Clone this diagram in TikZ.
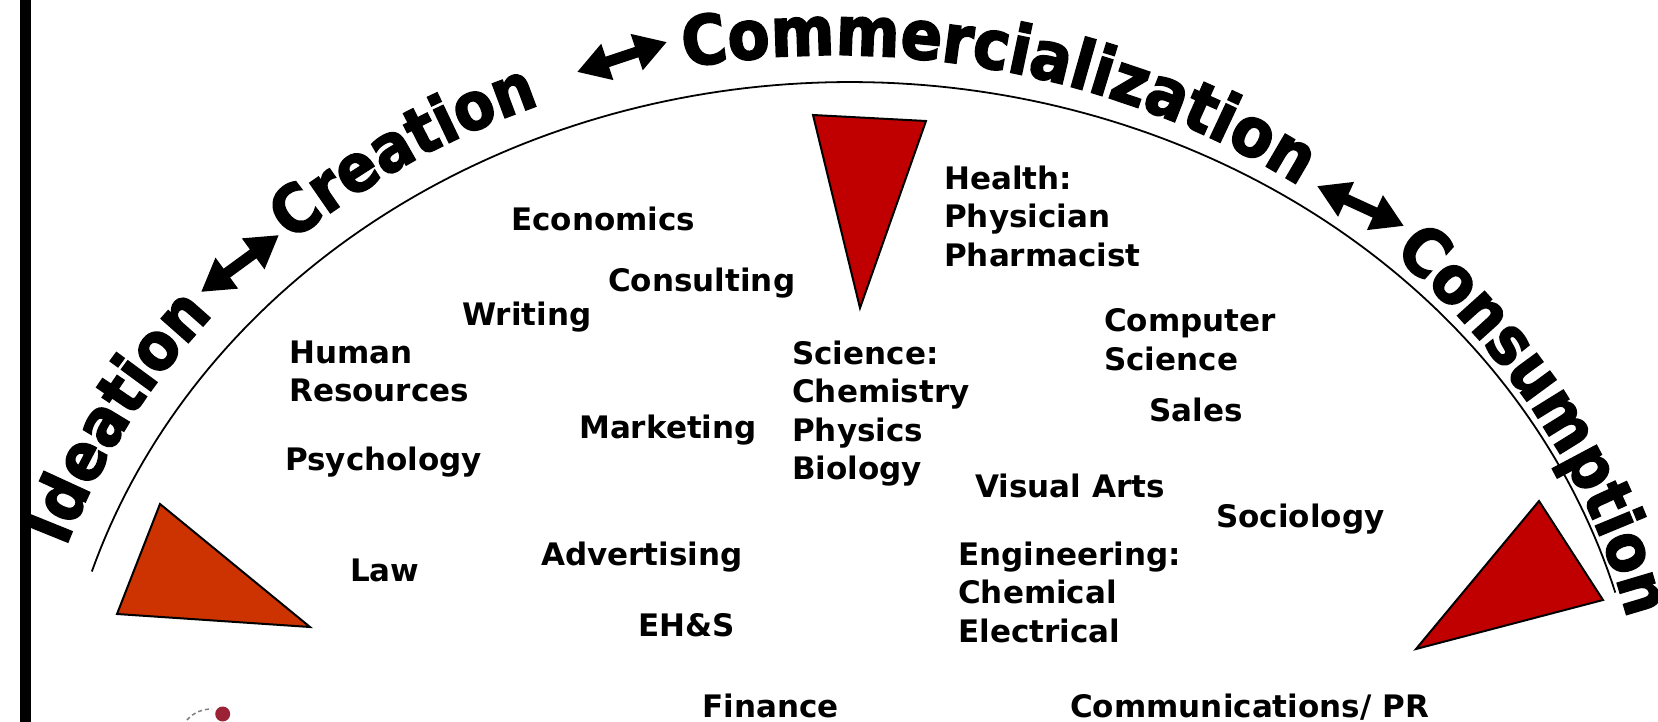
\documentclass[tikz,border=0pt]{standalone}
\usepackage{fontspec}
\setmainfont{DejaVu Sans}
\newfontfamily\arcfont{DejaVu Sans}[BoldFeatures={FakeBold=2.5, FakeStretch=0.9}]
\usetikzlibrary{decorations.text, arrows.meta}
\newcommand\curvefont{\arcfont\bfseries\fontsize{66}{66}\selectfont}
\newcommand\curvefontbig{\arcfont\bfseries\fontsize{68}{68}\selectfont}
\definecolor{triorange}{RGB}{204,51,0}
\definecolor{trired}{RGB}{192,0,0}
\definecolor{logored}{RGB}{155,35,53}
\begin{document}
\begin{tikzpicture}[x=1pt, y=-1pt,
  % baseline ellipse of the stage names
  declare function={bx(\t)=835+815*cos(\t); by(\t)=790-735*sin(\t);},
  lbl/.style={anchor=north west, inner sep=0pt, align=left,
    font=\fontsize{31}{38.4}\selectfont\bfseries},
  tri/.style={draw=black, line width=2pt, line join=miter},
  dbl/.style={line width=11pt,
    {Triangle[length=32pt,width=36pt]}-{Triangle[length=32pt,width=36pt]}},
  curved/.style={decorate, decoration={text along path, text align={left indent=0pt}, text={#1}}}
]
\useasboundingbox (0,0) rectangle (1658,722);

% left rule
\draw[line width=11pt] (25,0) -- (25,722);

% the arc
\draw[line width=1.8pt] plot[domain=15.7:162.5, samples=150] ({850+795*cos(\x)},{782-700*sin(\x)});

% stage names along the arc
\path[curved={|\curvefont|Ideation}]
  plot[domain=0:1, samples=80, variable=\u] ({bx(160.7-35*\u)},{by(160.7-35*\u)});
\path[curved={|\curvefont|Creation}]
  plot[domain=0:1, samples=80, variable=\u] ({bx(131.8-30*\u)},{by(131.8-30*\u)});
\path[curved={|\curvefontbig|Commercialization}]
  plot[domain=0:1, samples=120, variable=\u] ({bx(100.6-58*\u)},{by(100.6-58*\u)});
\path[curved={|\curvefont|Consumption}]
  plot[domain=0:1, samples=100, variable=\u] ({bx(46.8-46.8*\u)},{by(46.8-46.8*\u)});

% arrows between the stages
\coordinate (a1s) at (201,292);  \coordinate (a1e) at (279,235);
\coordinate (a2s) at (577,72);   \coordinate (a2e) at (667,42);
\coordinate (a3s) at (1317,186); \coordinate (a3e) at (1404,226);
\draw[dbl] (a1s) -- (a1e);
\draw[dbl] (a2s) -- (a2e);
\draw[dbl] (a3s) -- (a3e);

% pointers
\draw[tri, fill=triorange] (160,504) -- (117,614) -- (310,627) -- cycle;
\draw[tri, fill=trired] (813,115) -- (926,121) -- (860,308) -- cycle;
\draw[tri, fill=trired] (1539,501) -- (1603,600) -- (1416,649) -- cycle;

% fields
\node[lbl] (econ) at (511,206.5) {Economics};
\node[lbl] (cons) at (608,267.5) {Consulting};
\node[lbl] (writ) at (462,301.5) {Writing};
\node[lbl] (hr)   at (289,340.5) {Human\\Resources};
\node[lbl] (psy)  at (285,446.5) {Psychology};
\node[lbl] (mkt)  at (579,414.5) {Marketing};
\node[lbl] (law)  at (350,558.5) {Law};
\node[lbl] (adv)  at (541,541.5) {Advertising};
\node[lbl] (ehs)  at (638,613.5) {EH\&S};
\node[lbl] (fin)  at (702,693.5) {Finance};
\node[lbl] (sci)  at (792,340.5) {Science:\\Chemistry\\Physics\\Biology};
\node[lbl] (hlth) at (944,165.5) {Health:\\Physician\\Pharmacist};
\node[lbl] (cs)   at (1104,308.5) {Computer\\Science};
\node[lbl] (sales) at (1149,397.5) {Sales};
\node[lbl] (vis)  at (975,473.5) {Visual Arts};
\node[lbl] (soc)  at (1216,503.5) {Sociology};
\node[lbl] (eng)  at (958,541.5) {Engineering:\\Chemical\\Electrical};
\node[lbl] (comm) at (1070,693.5) {Communications/ PR};

% corner mark
\fill[logored] (222.7,714) circle (7.5);
\draw[gray, line width=1.5pt, dash pattern=on 4pt off 3pt] (187,720) .. controls (194,712) and (203,709) .. (212,709);
\end{tikzpicture}
\end{document}
